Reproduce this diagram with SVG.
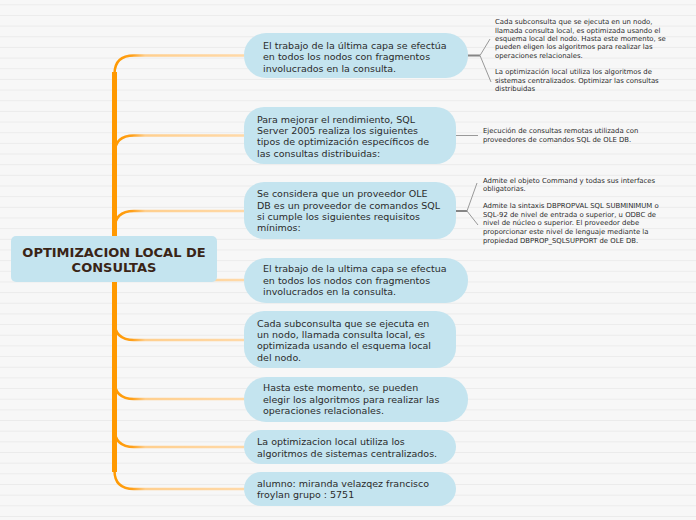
<svg xmlns="http://www.w3.org/2000/svg" width="696" height="520" viewBox="0 0 696 520">
<defs>
<pattern id="ruled" patternUnits="userSpaceOnUse" x="0" y="4.3" width="696" height="10.66">
<rect x="0" y="0" width="696" height="1" fill="#ebebeb"/>
</pattern>
<linearGradient id="branch" gradientUnits="userSpaceOnUse" x1="114" y1="0" x2="244" y2="0">
<stop offset="0" stop-color="#ff9900"/>
<stop offset="0.14" stop-color="#ffa01a"/>
<stop offset="0.24" stop-color="#ffcf8e"/>
<stop offset="1" stop-color="#ffd9a8"/>
</linearGradient>
</defs>
<style>
.node{fill:#c4e4ef;}
.t{font-family:"DejaVu Sans","Verdana",sans-serif;font-size:9.5px;fill:#2b2b2b;}
.s{font-family:"DejaVu Sans","Verdana",sans-serif;font-size:6.9px;fill:#2b2b2b;}
.root{font-family:"DejaVu Sans","Verdana",sans-serif;font-size:13px;font-weight:bold;fill:#3a2416;text-anchor:middle;}
.br{fill:none;stroke:url(#branch);stroke-width:2.5;}
.trunk{fill:none;stroke:#ff9900;stroke-width:5;}
.stem{fill:none;stroke:#858585;stroke-width:2;}
.fork{fill:none;stroke:#999;stroke-width:1;}
</style>
<rect x="0" y="0" width="696" height="520" fill="#f7f7f7"/>
<rect x="0" y="0" width="696" height="520" fill="url(#ruled)"/>

<g id="connectors">
<path class="trunk" d="M114.5,72 L114.5,472"/>
<path class="br" d="M114.5,74 Q114.5,55.5 134,55.5 L244,55.5"/>
<path class="br" d="M114.5,154 Q114.5,135.5 134,135.5 L244,135.5"/>
<path class="br" d="M114.5,229.5 Q114.5,211 134,211 L244,211"/>
<path class="br" d="M114.5,280 L244,280"/>
<path class="br" d="M114.5,321.5 Q114.5,340 134,340 L244,340"/>
<path class="br" d="M114.5,380.5 Q114.5,399 134,399 L244,399"/>
<path class="br" d="M114.5,428.5 Q114.5,447 134,447 L244,447"/>
<path class="br" d="M114.5,470.5 Q114.5,489 134,489 L244,489"/>
<path class="stem" d="M468,55.5 L480,55.5"/>
<path class="fork" d="M480,55.5 L490,39 M480,55.5 L491,82"/>
<path class="fork" d="M456,135.5 L478,135.5"/>
<path class="stem" d="M456,211 L467,211"/>
<path class="fork" d="M467,211 L477,183 M467,211 L478,225"/>
</g>

<g id="root">
<rect x="11" y="236" width="206" height="46" rx="5" class="node"/>
<text class="root" x="114" y="257">OPTIMIZACION LOCAL DE</text>
<text class="root" x="114" y="272">CONSULTAS</text>
</g>

<g id="n1">
<rect x="244" y="33" width="224" height="45" rx="22" class="node"/>
<text class="t" x="263" y="48.5">El trabajo de la última capa se efectúa</text>
<text class="t" x="263" y="60">en todos los nodos con fragmentos</text>
<text class="t" x="263" y="71.5">involucrados en la consulta.</text>
</g>
<g id="n2">
<rect x="244" y="107" width="212" height="57" rx="20" class="node"/>
<text class="t" x="257" y="122.6">Para mejorar el rendimiento, SQL</text>
<text class="t" x="257" y="134">Server 2005 realiza los siguientes</text>
<text class="t" x="257" y="145.3">tipos de optimización específicos de</text>
<text class="t" x="257" y="156.6">las consultas distribuidas:</text>
</g>
<g id="n3">
<rect x="244" y="182" width="212" height="57" rx="20" class="node"/>
<text class="t" x="257" y="197.3">Se considera que un proveedor OLE</text>
<text class="t" x="257" y="208.6">DB es un proveedor de comandos SQL</text>
<text class="t" x="257" y="220">si cumple los siguientes requisitos</text>
<text class="t" x="257" y="231.3">mínimos:</text>
</g>
<g id="n4">
<rect x="244" y="258" width="224" height="45" rx="22" class="node"/>
<text class="t" x="263" y="272.3">El trabajo de la ultima capa se efectua</text>
<text class="t" x="263" y="283.8">en todos los nodos con fragmentos</text>
<text class="t" x="263" y="295.3">involucrados en la consulta.</text>
</g>
<g id="n5">
<rect x="244" y="311" width="212" height="57" rx="20" class="node"/>
<text class="t" x="257" y="326.6">Cada subconsulta que se ejecuta en</text>
<text class="t" x="257" y="338">un nodo, llamada consulta local, es</text>
<text class="t" x="257" y="349.3">optimizada usando el esquema local</text>
<text class="t" x="257" y="360.6">del nodo.</text>
</g>
<g id="n6">
<rect x="244" y="377" width="224" height="45" rx="22" class="node"/>
<text class="t" x="263" y="391.3">Hasta este momento, se pueden</text>
<text class="t" x="263" y="402.8">elegir los algoritmos para realizar las</text>
<text class="t" x="263" y="414.3">operaciones relacionales.</text>
</g>
<g id="n7">
<rect x="244" y="430" width="212" height="34" rx="17" class="node"/>
<text class="t" x="257" y="444.8">La optimizacion local utiliza los</text>
<text class="t" x="257" y="456.8">algoritmos de sistemas centralizados.</text>
</g>
<g id="n8">
<rect x="244" y="472" width="212" height="34" rx="17" class="node"/>
<text class="t" x="257" y="487">alumno: miranda velazqez francisco</text>
<text class="t" x="257" y="498">froylan grupo : 5751</text>
</g>

<g id="c1a">
<text class="s" x="495" y="24.4">Cada subconsulta que se ejecuta en un nodo,</text>
<text class="s" x="495" y="32.7">llamada consulta local, es optimizada usando el</text>
<text class="s" x="495" y="41">esquema local del nodo. Hasta este momento, se</text>
<text class="s" x="495" y="49.3">pueden eligen los algoritmos para realizar las</text>
<text class="s" x="495" y="57.6">operaciones relacionales.</text>
</g>
<g id="c1b">
<text class="s" x="495" y="74.2">La optimización local utiliza los algoritmos de</text>
<text class="s" x="495" y="82.5">sistemas centralizados. Optimizar las consultas</text>
<text class="s" x="495" y="90.8">distribuidas</text>
</g>
<g id="c2a">
<text class="s" x="483" y="133.4">Ejecución de consultas remotas utilizada con</text>
<text class="s" x="483" y="141.7">proveedores de comandos SQL de OLE DB.</text>
</g>
<g id="c3a">
<text class="s" x="483" y="182.5">Admite el objeto Command y todas sus interfaces</text>
<text class="s" x="483" y="191.2">obligatorias.</text>
</g>
<g id="c3b">
<text class="s" x="483" y="208">Admite la sintaxis DBPROPVAL SQL SUBMINIMUM o</text>
<text class="s" x="483" y="216.7">SQL-92 de nivel de entrada o superior, u ODBC de</text>
<text class="s" x="483" y="225.4">nivel de núcleo o superior. El proveedor debe</text>
<text class="s" x="483" y="234.1">proporcionar este nivel de lenguaje mediante la</text>
<text class="s" x="483" y="242.8">propiedad DBPROP_SQLSUPPORT de OLE DB.</text>
</g>
</svg>
